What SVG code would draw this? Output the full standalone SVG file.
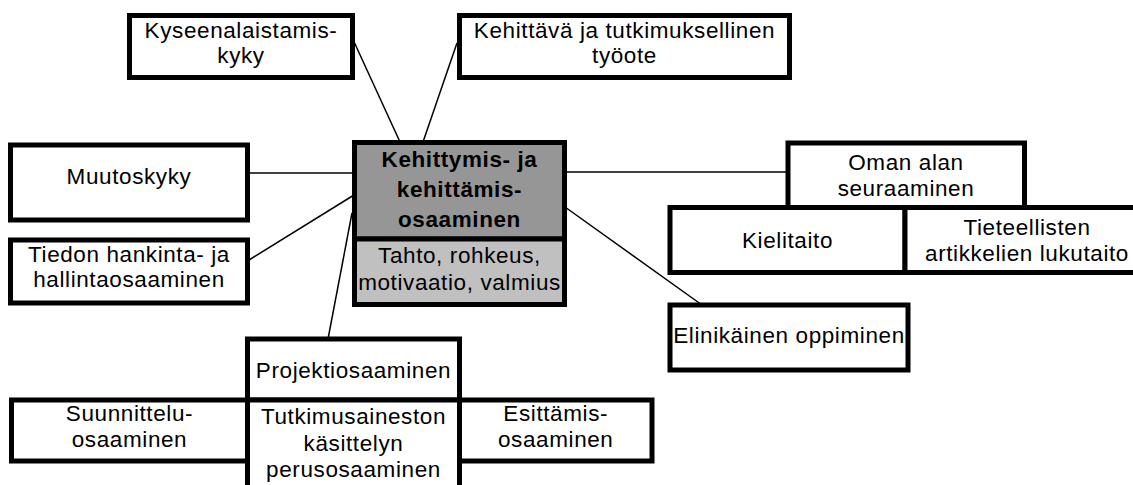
<svg xmlns="http://www.w3.org/2000/svg" width="1133" height="485" viewBox="0 0 1133 485">
<style>
.box{fill:#ffffff;stroke:#000000;stroke-width:5}
.dark{fill:#969696;stroke:#000000;stroke-width:5}
.light{fill:#c0c0c0;stroke:#000000;stroke-width:5}
.t{font-family:"Liberation Sans",Arial,sans-serif;font-size:22.5px;letter-spacing:0.6px;fill:#000000;text-anchor:middle}
.b{font-weight:bold}
.c{stroke:#000000;stroke-width:1.5;fill:none}
</style>
<rect width="1133" height="485" fill="#ffffff"/>
<g id="connectors">
<line class="c" x1="350" y1="33" x2="400" y2="142"/>
<line class="c" x1="457" y1="43" x2="423" y2="142"/>
<line class="c" x1="245" y1="173" x2="354" y2="173"/>
<line class="c" x1="249" y1="260" x2="354" y2="195"/>
<line class="c" x1="352" y1="213" x2="328" y2="339"/>
<line class="c" x1="565" y1="172" x2="788" y2="172"/>
<line class="c" x1="565" y1="207" x2="702" y2="305"/>
</g>
<g id="kyseenalaistamis">
<rect class="box" x="129.5" y="15.5" width="223" height="62"/>
<text class="t" x="241" y="38">Kyseenalaistamis-</text>
<text class="t" x="241" y="63">kyky</text>
</g>
<g id="kehittava">
<rect class="box" x="459.5" y="15.5" width="330" height="62"/>
<text class="t" x="624.5" y="38">Kehittävä ja tutkimuksellinen</text>
<text class="t" x="624.5" y="63">työote</text>
</g>
<g id="muutoskyky">
<rect class="box" x="10.5" y="145" width="237" height="75"/>
<text class="t" x="129" y="184">Muutoskyky</text>
</g>
<g id="tiedon">
<rect class="box" x="10.5" y="240" width="237" height="63"/>
<text class="t" x="129" y="262">Tiedon hankinta- ja</text>
<text class="t" x="129" y="287">hallintaosaaminen</text>
</g>
<g id="center">
<rect class="dark" x="354.5" y="142.5" width="210" height="96.5"/>
<rect class="light" x="354.5" y="239" width="210" height="65.5"/>
<text class="t b" x="459.5" y="166.5">Kehittymis- ja</text>
<text class="t b" x="459.5" y="196.5">kehittämis-</text>
<text class="t b" x="459.5" y="226.5">osaaminen</text>
<text class="t" x="459.5" y="263">Tahto, rohkeus,</text>
<text class="t" x="459.5" y="290">motivaatio, valmius</text>
</g>
<g id="oman-alan">
<rect class="box" x="788" y="143" width="236.5" height="64.5"/>
<text class="t" x="906" y="170">Oman alan</text>
<text class="t" x="906" y="196">seuraaminen</text>
</g>
<g id="kielitaito">
<rect class="box" x="670" y="207.5" width="235" height="65"/>
<text class="t" x="787.5" y="248">Kielitaito</text>
</g>
<g id="tieteellisten">
<rect class="box" x="905" y="207.5" width="244" height="65"/>
<text class="t" x="1027" y="235">Tieteellisten</text>
<text class="t" x="1027" y="261">artikkelien lukutaito</text>
</g>
<g id="elinikainen">
<rect class="box" x="670" y="305" width="238" height="65"/>
<text class="t" x="789" y="343">Elinikäinen oppiminen</text>
</g>
<g id="projekti">
<rect class="box" x="247.5" y="339" width="212" height="61"/>
<text class="t" x="353.5" y="378">Projektiosaaminen</text>
</g>
<g id="suunnittelu">
<rect class="box" x="11.5" y="400" width="236" height="61"/>
<text class="t" x="129.5" y="421">Suunnittelu-</text>
<text class="t" x="129.5" y="447">osaaminen</text>
</g>
<g id="tutkimus">
<rect class="box" x="247.5" y="400" width="212" height="100"/>
<text class="t" x="353.5" y="424">Tutkimusaineston</text>
<text class="t" x="353.5" y="451">käsittelyn</text>
<text class="t" x="353.5" y="477">perusosaaminen</text>
</g>
<g id="esittamis">
<rect class="box" x="459.5" y="400" width="192.5" height="61"/>
<text class="t" x="555.75" y="421">Esittämis-</text>
<text class="t" x="555.75" y="447">osaaminen</text>
</g>
</svg>
